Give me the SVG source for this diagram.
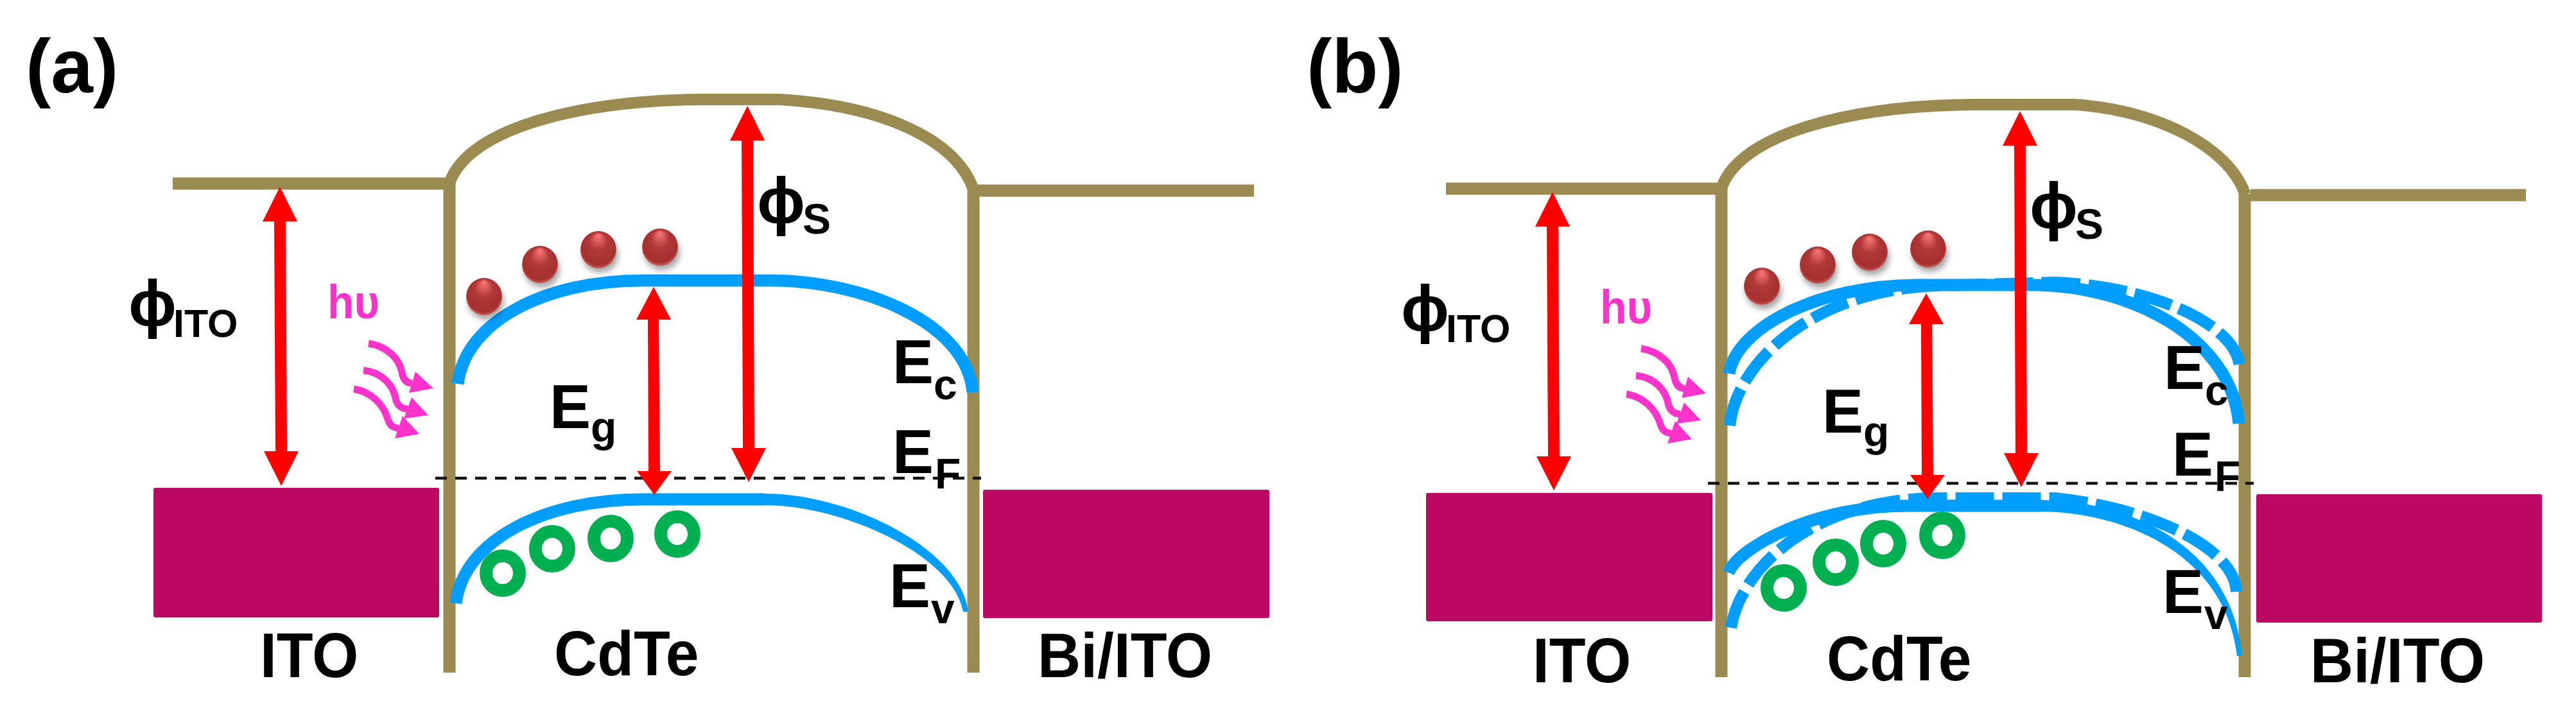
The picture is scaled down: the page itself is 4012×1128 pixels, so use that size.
<svg xmlns="http://www.w3.org/2000/svg" width="4012" height="1128" viewBox="0 0 4012 1128">
<style>
.bg{fill:#fff}
.t{font-family:"Liberation Sans","DejaVu Sans",sans-serif;font-weight:700;fill:#000}
.l{font-size:93px}.e{font-size:96px}.s{font-size:66px}.p{font-size:118px}
.phi{font-size:100px}.sub{font-size:61px}
.h{font-family:"Liberation Sans",sans-serif;font-weight:700;font-size:68px;fill:#ff33cc}
.tan{fill:none;stroke:#9c8b50;stroke-width:19}
.lvl{fill:none;stroke:#9c8b50;stroke-width:19}
.dome{fill:none;stroke:#9c8b50;stroke-width:18}
.band{fill:none;stroke:#009fff;stroke-width:19}
.taper{fill:#009fff}
.dash{fill:none;stroke:#009fff;stroke-width:18;stroke-dasharray:60 13}
.ef{fill:none;stroke:#111;stroke-width:4.5;stroke-dasharray:18 13}
.red{fill:#f00}
.met{fill:#bc0763}
.ring{fill:none;stroke:#00b050;stroke-width:20}
.wave{fill:none;stroke:#ff33cc;stroke-width:11}
.wh{fill:#ff33cc}
.ball{fill:url(#ballg)}
.shad{fill:#000;opacity:.35;filter:url(#blur)}
</style>
<defs>
<radialGradient id="ballg" cx=".5" cy=".5" r=".55" fx=".5" fy=".1">
<stop offset="0" stop-color="#ff7a7a"/><stop offset=".45" stop-color="#b23838"/><stop offset=".85" stop-color="#a53030"/><stop offset="1" stop-color="#e07070"/>
</radialGradient>
<filter id="blur" x="-50%" y="-50%" width="200%" height="200%"><feGaussianBlur stdDeviation="5"/></filter>
</defs>
<rect class="bg" width="4012" height="1128"/>

<g id="panel-a">
<text class="t p" x="40" y="144">(a)</text>
<g id="a-metals">
<rect class="met" x="239" y="760" width="445" height="202" rx="3"/>
<rect class="met" x="1531" y="763" width="446" height="200" rx="3"/>
</g>
<g id="a-barrier">
<path class="lvl" d="M269,286H697"/>
<path class="lvl" d="M1516,297H1953"/>
<path class="tan" d="M700,280V1048"/>
<path class="tan" d="M1516,295V1048"/>
<path class="dome" d="M700,285C730,200 900,157 1090,155L1215,155C1380,165 1490,220 1516,295"/>
</g>
<g id="a-bands">
<path class="band" d="M713,598C725,500 850,437 1000,437L1200,437C1340,437 1505,500 1515,611"/>
<path class="band" d="M710,940C722,840 850,778 1000,778L1190,778"/>
<path class="taper" d="M1190,769C1325,769 1497,856 1508,953L1500,953C1485,866 1315,787 1190,787Z"/>
</g>
<path class="ef" d="M678,745H1528"/>
<g id="a-arrows">
<path class="red" d="M436,291L463,345H445L447,703H465L438,757L411,703H429L427,345H409Z"/>
<path class="red" d="M1164,165L1191,219H1173L1175,698H1193L1166,751L1139,698H1157L1155,219H1137Z"/>
<path class="red" d="M1018,447L1045,498H1026L1028,734H1046L1019,771L992,734H1010L1009,498H991Z"/>
</g>
<g id="a-electrons">
<ellipse class="shad" cx="757" cy="470" rx="28" ry="28"/><ellipse class="ball" cx="754" cy="462" rx="28" ry="29"/>
<ellipse class="shad" cx="844" cy="420" rx="28" ry="28"/><ellipse class="ball" cx="841" cy="412" rx="28" ry="29"/>
<ellipse class="shad" cx="935" cy="397" rx="28" ry="28"/><ellipse class="ball" cx="932" cy="389" rx="28" ry="29"/>
<ellipse class="shad" cx="1031" cy="393" rx="28" ry="28"/><ellipse class="ball" cx="1028" cy="385" rx="28" ry="29"/>
</g>
<g id="a-holes">
<ellipse class="ring" cx="783" cy="893" rx="26" ry="27"/>
<ellipse class="ring" cx="860" cy="855" rx="26" ry="27"/>
<ellipse class="ring" cx="951" cy="839" rx="26" ry="27"/>
<ellipse class="ring" cx="1055" cy="832" rx="26" ry="27"/>
</g>
<g id="a-light">
<text class="h" transform="translate(510,496) scale(1,1.08)">hυ</text>
<path class="wave" d="M574,535C605,540 622,560 626,580C628,592 634,597 642,597"/>
<path class="wh" d="M675,605L647,579L637,612Z"/>
<path class="wave" d="M566,577C595,580 612,600 616,620C618,632 626,637 635,637"/>
<path class="wh" d="M667,647L641,619L629,652Z"/>
<path class="wave" d="M551,606C578,610 596,630 603,650C606,662 612,667 621,667"/>
<path class="wh" d="M653,676L627,648L615,683Z"/>
</g>
<g id="a-labels">
<text class="t phi" x="200" y="507">ϕ</text><text class="t sub" x="270" y="525">ITO</text>
<text class="t phi" x="1179" y="347">ϕ</text><text class="t s" x="1250" y="364">S</text>
<text class="t e" x="856" y="667">E</text><text class="t s" x="920" y="688">g</text>
<text class="t e" x="1390" y="597">E</text><text class="t s" x="1454" y="622">c</text>
<text class="t e" x="1390" y="737">E</text><text class="t s" x="1456" y="761">F</text>
<text class="t e" x="1385" y="946">E</text><text class="t s" x="1450" y="971">v</text>
<text class="t l" transform="translate(405,1055) scale(1,1.05)">ITO</text>
<text class="t l" transform="translate(863,1052) scale(1,1.05)">CdTe</text>
<text class="t l" transform="translate(1616,1055) scale(1,1.05)">Bi/ITO</text>
</g>
</g>

<g id="panel-b">
<text class="t p" x="2035" y="144">(b)</text>
<g id="b-metals">
<rect class="met" x="2221" y="768" width="446" height="200" rx="3"/>
<rect class="met" x="3514" y="770" width="445" height="200" rx="3"/>
</g>
<g id="b-barrier">
<path class="lvl" d="M2252,294H2678"/>
<path class="lvl" d="M3505,304H3934"/>
<path class="tan" d="M2681,288V1055"/>
<path class="tan" d="M3496,302V1055"/>
<path class="dome" d="M2681,293C2711,208 2881,165 3071,163L3234,163C3361,173 3471,228 3497,303"/>
</g>
<g id="b-bands">
<path class="dash" d="M2694,663C2705,560 2830,450 3020,445L3200,440C3340,445 3480,500 3488,570"/>
<path class="dash" d="M2696,978C2712,880 2830,776 3020,776L3200,776C3340,790 3480,850 3483,922"/>
<path class="band" d="M2693,582C2705,510 2830,445 2985,444L3170,444C3320,446 3475,525 3487,660"/>
<path class="band" d="M2692,892C2710,850 2830,788 2970,788L3180,788"/>
<path class="taper" d="M3180,779C3325,781 3477,855 3492,1022L3484,1022C3467,867 3315,799 3180,797Z"/>
</g>
<path class="ef" d="M2660,753H3510"/>
<g id="b-arrows">
<path class="red" d="M2418,299L2445,353H2427L2429,711H2447L2420,764L2393,711H2411L2409,353H2391Z"/>
<path class="red" d="M3146,173L3173,227H3155L3157,706H3175L3148,759L3121,706H3139L3137,227H3119Z"/>
<path class="red" d="M3000,457L3027,505H3009L3011,740H3029L3002,777L2975,740H2993L2992,505H2973Z"/>
</g>
<g id="b-electrons">
<ellipse class="shad" cx="2747" cy="454" rx="28" ry="28"/><ellipse class="ball" cx="2744" cy="446" rx="28" ry="29"/>
<ellipse class="shad" cx="2834" cy="421" rx="28" ry="28"/><ellipse class="ball" cx="2831" cy="413" rx="28" ry="29"/>
<ellipse class="shad" cx="2915" cy="401" rx="28" ry="28"/><ellipse class="ball" cx="2912" cy="393" rx="28" ry="29"/>
<ellipse class="shad" cx="3006" cy="396" rx="28" ry="28"/><ellipse class="ball" cx="3003" cy="388" rx="28" ry="29"/>
</g>
<g id="b-holes">
<ellipse class="ring" cx="2778" cy="916" rx="26" ry="27"/>
<ellipse class="ring" cx="2859" cy="876" rx="26" ry="27"/>
<ellipse class="ring" cx="2933" cy="847" rx="26" ry="27"/>
<ellipse class="ring" cx="3025" cy="834" rx="26" ry="27"/>
</g>
<g id="b-light" transform="translate(1982,8)">
<text class="h" transform="translate(510,496) scale(1,1.08)">hυ</text>
<path class="wave" d="M574,535C605,540 622,560 626,580C628,592 634,597 642,597"/>
<path class="wh" d="M675,605L647,579L637,612Z"/>
<path class="wave" d="M566,577C595,580 612,600 616,620C618,632 626,637 635,637"/>
<path class="wh" d="M667,647L641,619L629,652Z"/>
<path class="wave" d="M551,606C578,610 596,630 603,650C606,662 612,667 621,667"/>
<path class="wh" d="M653,676L627,648L615,683Z"/>
</g>
<g id="b-labels">
<text class="t phi" x="2182" y="515">ϕ</text><text class="t sub" x="2252" y="533">ITO</text>
<text class="t phi" x="3161" y="355">ϕ</text><text class="t s" x="3232" y="372">S</text>
<text class="t e" x="2838" y="674">E</text><text class="t s" x="2902" y="695">g</text>
<text class="t e" x="3370" y="606">E</text><text class="t s" x="3434" y="631">c</text>
<text class="t e" x="3383" y="741">E</text><text class="t s" x="3449" y="765">F</text>
<text class="t e" x="3368" y="955">E</text><text class="t s" x="3433" y="980">v</text>
<text class="t l" transform="translate(2387,1063) scale(1,1.05)">ITO</text>
<text class="t l" transform="translate(2845,1060) scale(1,1.05)">CdTe</text>
<text class="t l" transform="translate(3598,1063) scale(1,1.05)">Bi/ITO</text>
</g>
</g>
</svg>
